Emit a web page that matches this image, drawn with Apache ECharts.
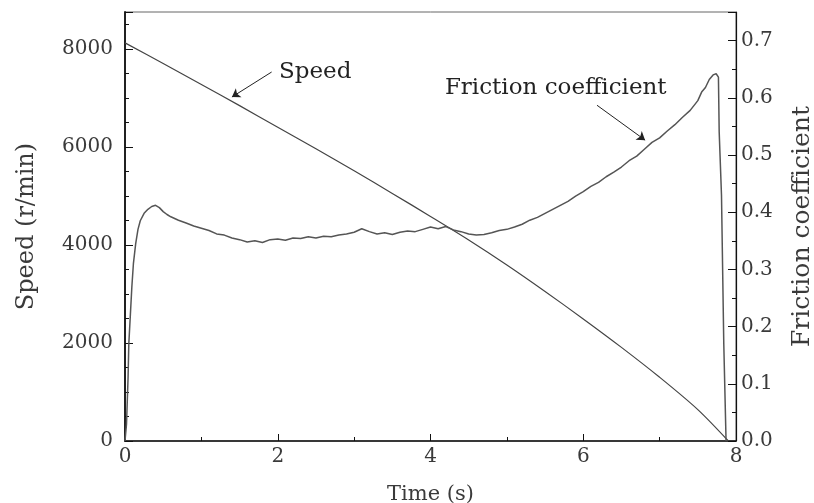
<!DOCTYPE html>
<html><head><meta charset="utf-8">
<script src="https://cdn.jsdelivr.net/npm/echarts@6/dist/echarts.min.js"></script>
<style>html,body{margin:0;padding:0;background:#fff}#c{width:814px;height:503px}</style>
</head><body><div id="c"></div>
<script>
// ---- data ----
const speedTime   = [0, 0.5, 1, 1.5, 2, 2.5, 3, 3.5, 4, 4.5, 5, 5.5, 6, 6.5, 7, 7.5, 7.9];
const speedValues = [8120, 7700, 7270, 6840, 6400, 5960, 5510, 5050, 4580, 4100, 3590, 3050, 2490, 1910, 1300, 640, 0];

const frictionTime = [0, 0.02, 0.04, 0.05, 0.07, 0.09, 0.11, 0.14, 0.17, 0.2, 0.25, 0.3, 0.35, 0.4, 0.45, 0.5, 0.55, 0.6, 0.7, 0.8, 0.9,
  1.0, 1.1, 1.2, 1.3, 1.4, 1.5, 1.6, 1.7, 1.8, 1.9, 2.0, 2.1, 2.2, 2.3, 2.4, 2.5, 2.6, 2.7, 2.8, 2.9,
  3.0, 3.1, 3.2, 3.3, 3.4, 3.5, 3.6, 3.7, 3.8, 3.9, 4.0, 4.1, 4.2, 4.3, 4.4, 4.5, 4.6, 4.7, 4.8, 4.9,
  5.0, 5.1, 5.2, 5.3, 5.4, 5.5, 5.6, 5.7, 5.8, 5.9, 6.0, 6.1, 6.2, 6.3, 6.4, 6.5, 6.6, 6.7, 6.8, 6.9,
  7.0, 7.1, 7.2, 7.3, 7.4, 7.5, 7.55, 7.6, 7.65, 7.7, 7.74, 7.77, 7.78, 7.79, 7.81, 7.82, 7.84, 7.85, 7.87];
const frictionValues = [0, 0.03, 0.11, 0.17, 0.22, 0.27, 0.31, 0.345, 0.37, 0.385, 0.398, 0.405, 0.41, 0.412, 0.408, 0.401, 0.396, 0.392, 0.386, 0.381, 0.376,
  0.372, 0.368, 0.362, 0.36, 0.355, 0.352, 0.348, 0.35, 0.347, 0.352, 0.353, 0.351, 0.355, 0.354, 0.357, 0.355, 0.358, 0.357, 0.36, 0.362,
  0.365, 0.371, 0.366, 0.362, 0.364, 0.361, 0.365, 0.367, 0.366, 0.37, 0.374, 0.371, 0.375, 0.369, 0.366, 0.362, 0.36, 0.361, 0.364, 0.368,
  0.37, 0.374, 0.379, 0.386, 0.391, 0.398, 0.405, 0.412, 0.419, 0.428, 0.436, 0.445, 0.452, 0.462, 0.47, 0.479, 0.49, 0.498, 0.51, 0.522,
  0.53, 0.542, 0.553, 0.566, 0.578, 0.595, 0.61, 0.618, 0.632, 0.64, 0.642, 0.636, 0.54, 0.54, 0.43, 0.43, 0.17, 0.17, 0.0];

const speedTickStep = 2000;
const frictionTickStep = 0.1;
const timeTickStep = 2;

// annotations (data coordinates)
const speedLabel = {text: 'Speed', at: [2.49, 7526], arrowFrom: [1.92, 7526], arrowTo: [1.40, 7016]};
const frictionLabel = {text: 'Friction coefficient', at: [5.64, 0.617], arrowFrom: [6.18, 0.587], arrowTo: [6.81, 0.526]};

// ---- chart ----
const FONT = 'DejaVu Serif';
const TXT = '#3a3a3a';
const speedData = speedTime.map((t, i) => [t, speedValues[i]]);
const frictionData = frictionTime.map((t, i) => [t, frictionValues[i]]);

function annot(a) {
  return {
    markLine: {
      silent: true, symbol: ['none', 'arrow'], symbolSize: 8,
      label: {show: false},
      lineStyle: {color: '#222', width: 1, type: 'solid'},
      data: [[{coord: a.arrowFrom}, {coord: a.arrowTo}]]
    },
    markPoint: {
      silent: true, symbol: 'rect', symbolSize: 1, itemStyle: {color: 'rgba(0,0,0,0)'},
      label: {show: true, position: 'inside', formatter: a.text, color: '#222', fontFamily: FONT, fontSize: 23},
      data: [{coord: a.at}]
    }
  };
}

const chart = echarts.init(document.getElementById('c'), null, {renderer: 'canvas'});
chart.setOption({
  animation: false,
  backgroundColor: '#fff',
  grid: {left: 125, right: 78, top: 12, bottom: 62, containLabel: false, outerBoundsMode: 'none',
    show: true, borderColor: '#666', borderWidth: 1, backgroundColor: 'rgba(0,0,0,0)'},
  xAxis: {
    type: 'value', min: 0, max: 8, interval: timeTickStep,
    name: 'Time (s)', nameLocation: 'middle', nameGap: 43,
    nameTextStyle: {fontFamily: FONT, fontSize: 21, color: TXT},
    axisLine: {lineStyle: {color: '#111', width: 1.5}},
    axisTick: {inside: true, length: 7, lineStyle: {color: '#111'}},
    minorTick: {show: true, splitNumber: 2, length: 4, lineStyle: {color: '#111'}},
    axisLabel: {fontFamily: FONT, fontSize: 20, color: TXT, margin: 6},
    splitLine: {show: false}
  },
  yAxis: [{
    type: 'value', min: 0, max: 8750, interval: speedTickStep, position: 'left',
    name: 'Speed (r/min)', nameLocation: 'middle', nameGap: 86,
    nameTextStyle: {fontFamily: FONT, fontSize: 24, color: TXT},
    axisLine: {show: true, lineStyle: {color: '#111', width: 1.8}},
    axisTick: {inside: true, length: 8, lineStyle: {color: '#111'}},
    minorTick: {show: true, splitNumber: 4, length: 4, lineStyle: {color: '#111'}},
    axisLabel: {fontFamily: FONT, fontSize: 20, color: TXT, margin: 12,
      formatter: v => (v % speedTickStep === 0 ? String(v) : '')},
    splitLine: {show: false}
  }, {
    type: 'value', min: 0, max: 0.75, interval: frictionTickStep, position: 'right',
    name: 'Friction coefficient', nameLocation: 'middle', nameGap: 54, nameRotate: 90,
    nameTextStyle: {fontFamily: FONT, fontSize: 25, color: TXT},
    axisLine: {show: true, lineStyle: {color: '#111', width: 1.2}},
    axisTick: {inside: true, length: 8, lineStyle: {color: '#111'}},
    minorTick: {show: true, splitNumber: 2, length: 4, lineStyle: {color: '#111'}},
    axisLabel: {fontFamily: FONT, fontSize: 20, color: TXT, margin: 5,
      formatter: v => (Math.abs(v * 10 - Math.round(v * 10)) < 1e-6 ? v.toFixed(1) : '')},
    splitLine: {show: false}
  }],
  series: [
    Object.assign({
      type: 'line', name: 'Speed', yAxisIndex: 0, data: speedData, showSymbol: false, smooth: 0.3,
      lineStyle: {color: '#444', width: 1.2}
    }, annot(speedLabel)),
    Object.assign({
      type: 'line', name: 'Friction coefficient', yAxisIndex: 1, data: frictionData, showSymbol: false,
      lineStyle: {color: '#555', width: 1.5}
    }, annot(frictionLabel))
  ]
});
</script></body></html>
